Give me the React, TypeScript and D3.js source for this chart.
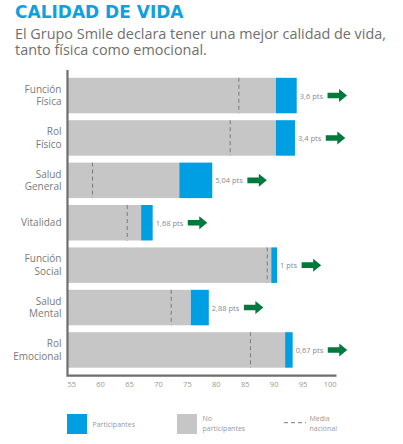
import React, { useEffect, useRef } from "react";
import * as d3 from "d3";

const categories = [
  ["Función", "Física"],
  ["Rol", "Físico"],
  ["Salud", "General"],
  ["Vitalidad"],
  ["Función", "Social"],
  ["Salud", "Mental"],
  ["Rol", "Emocional"],
];
const noParticipantes = [90.3, 90.3, 73.6, 67.0, 89.5, 75.6, 91.9];
const participantes = [93.9, 93.6, 79.3, 69.0, 90.5, 78.7, 93.2];
const mediaNacional = [83.9, 82.4, 58.6, 64.6, 88.8, 72.2, 85.9];
const diferencias = [3.6, 3.4, 5.04, 1.68, 1, 2.88, 0.67];
const ticks = [55, 60, 65, 70, 75, 80, 85, 90, 95, 100];

const BLUE = "#009FE3";
const GRAY = "#C6C6C6";
const GREEN = "#007A3C";
const AXIS = "#6E6E6E";
const TEXT = "#7A7A7A";
const LIGHT = "#999999";

export default function App() {
  const ref = useRef<SVGSVGElement>(null);

  useEffect(() => {
    const svg = d3.select(ref.current);
    svg.selectAll("*").remove();

    const x = d3.scaleLinear().domain([55, 100]).range([71.7, 332]);
    const left = x(54.27);
    const right = x(100.78);
    const idx = categories.map((_, i) => i);
    const y = d3
      .scaleBand<number>()
      .domain(idx)
      .range([70, 375.5])
      .paddingInner(0.163)
      .paddingOuter(0.184);

    // title
    svg
      .append("text")
      .attr("x", 15)
      .attr("y", 17.5)
      .attr("fill", "#0EA0DF")
      .attr("font-family", "'DejaVu Sans', sans-serif")
      .attr("font-weight", 700)
      .attr("font-size", 17)
      .text("CALIDAD DE VIDA");
    const sub = ["El Grupo Smile declara tener una mejor calidad de vida,", "tanto física como emocional."];
    const st = svg
      .append("text")
      .attr("fill", "#6F6F6F")
      .attr("font-family", "'Open Sans', sans-serif")
      .attr("font-size", 14.4);
    sub.forEach((s, i) =>
      st.append("tspan").attr("x", 15).attr("y", 39 + i * 15.5).text(s)
    );

    const g = svg.append("g");
    idx.forEach((i) => {
      const y0 = y(i)!;
      const h = y.bandwidth();
      g.append("rect")
        .attr("x", left)
        .attr("y", y0)
        .attr("width", x(noParticipantes[i]) - left)
        .attr("height", h)
        .attr("fill", GRAY);
      g.append("rect")
        .attr("x", x(noParticipantes[i]))
        .attr("y", y0)
        .attr("width", x(participantes[i]) - x(noParticipantes[i]))
        .attr("height", h)
        .attr("fill", BLUE);
      g.append("line")
        .attr("x1", x(mediaNacional[i]))
        .attr("x2", x(mediaNacional[i]))
        .attr("y1", y0)
        .attr("y2", y0 + h)
        .attr("stroke", "#7A7A7A")
        .attr("stroke-width", 1)
        .attr("stroke-dasharray", "4,3");

      const cy = y0 + h / 2;
      const lbl = g
        .append("text")
        .attr("x", x(participantes[i]) + 3)
        .attr("y", cy + 3)
        .attr("fill", "#8A8A96")
        .attr("font-family", "'Open Sans', sans-serif")
        .attr("font-size", 7.5)
        .text(String(diferencias[i]).replace(".", ",") + " pts");
      const tw = (lbl.node() as SVGTextElement).getComputedTextLength();
      const ax = x(participantes[i]) + 3 + tw + 4.5;
      const path = d3.path();
      path.moveTo(ax, cy - 2.8);
      path.lineTo(ax + 11.5, cy - 2.8);
      path.lineTo(ax + 11.5, cy - 6.5);
      path.lineTo(ax + 19.5, cy);
      path.lineTo(ax + 11.5, cy + 6.5);
      path.lineTo(ax + 11.5, cy + 2.8);
      path.lineTo(ax, cy + 2.8);
      path.closePath();
      g.append("path").attr("d", path.toString()).attr("fill", GREEN);

      const lines = categories[i];
      const lh = 12.5;
      const startY = cy - ((lines.length - 1) * lh) / 2 + 3.5;
      lines.forEach((l, k) =>
        g
          .append("text")
          .attr("text-anchor", "end")
          .attr("fill", TEXT)
          .attr("font-family", "'Open Sans', sans-serif")
          .attr("font-size", 10)
          .attr("x", 61.5)
          .attr("y", startY + k * lh)
          .text(l)
      );
    });

    // axes
    svg
      .append("path")
      .attr("d", `M${left},70 V${375.7} H${right}`)
      .attr("fill", "none")
      .attr("stroke", AXIS)
      .attr("stroke-width", 2.2);

    ticks.forEach((tv, k) => {
      svg
        .append("text")
        .attr("x", k === 0 ? left : k === ticks.length - 1 ? right : x(tv))
        .attr("y", 387)
        .attr("text-anchor", k === 0 ? "start" : k === ticks.length - 1 ? "end" : "middle")
        .attr("fill", LIGHT)
        .attr("font-family", "'Open Sans', sans-serif")
        .attr("font-size", 7.5)
        .text(String(tv));
    });

    // legend
    const lg = svg.append("g").attr("font-family", "'Open Sans', sans-serif").attr("font-size", 7).attr("fill", LIGHT);
    lg.append("rect").attr("x", 67).attr("y", 414).attr("width", 20).attr("height", 20).attr("fill", BLUE);
    lg.append("text").attr("x", 92.5).attr("y", 427).text("Participantes");
    lg.append("rect").attr("x", 177).attr("y", 414).attr("width", 20).attr("height", 20).attr("fill", GRAY);
    lg.append("text").attr("x", 202.5).attr("y", 421).text("No");
    lg.append("text").attr("x", 202.5).attr("y", 431).text("participantes");
    lg.append("line")
      .attr("x1", 284)
      .attr("x2", 306)
      .attr("y1", 422.7)
      .attr("y2", 422.7)
      .attr("stroke", "#7A7A7A")
      .attr("stroke-dasharray", "4,3");
    lg.append("text").attr("x", 309.5).attr("y", 421).text("Media");
    lg.append("text").attr("x", 309.5).attr("y", 431).text("nacional");
  }, []);

  return (
    <svg
      ref={ref}
      width={403}
      height={444}
      style={{ position: "absolute", left: 0, top: 0, background: "#fff" }}
    />
  );
}
